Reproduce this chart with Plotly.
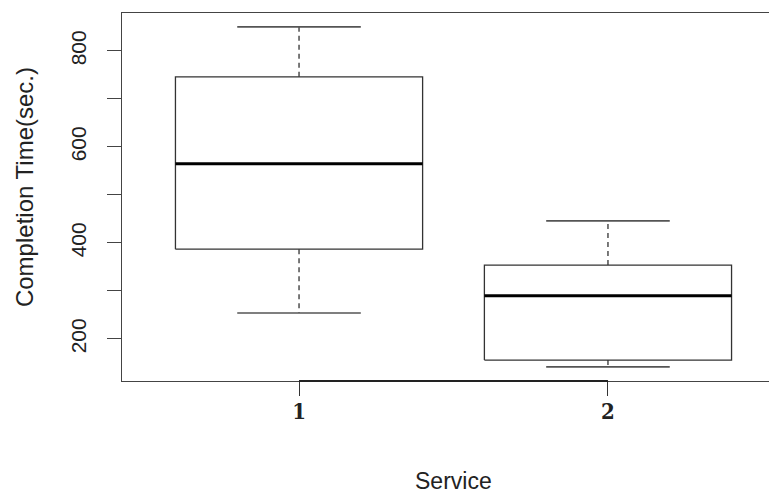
import plotly.graph_objects as go

services = [1, 2]
service_labels = ["1", "2"]
upper_whisker = [850, 446]
q3 = [746, 354]
median = [565, 290]
q1 = [387, 156]
lower_whisker = [254, 142]

box_half = 0.4
cap_half = 0.2
line_col = "#333333"

fig = go.Figure()
for i, c in enumerate(services):
    fig.add_trace(go.Scatter(
        x=[c - box_half, c + box_half, c + box_half, c - box_half, c - box_half],
        y=[q1[i], q1[i], q3[i], q3[i], q1[i]],
        mode="lines", line=dict(color=line_col, width=1.3),
        showlegend=False, hoverinfo="skip"))
    fig.add_trace(go.Scatter(
        x=[c - box_half, c + box_half], y=[median[i], median[i]],
        mode="lines", line=dict(color="black", width=3),
        showlegend=False, hoverinfo="skip"))
    for a, b in [(q3[i], upper_whisker[i]), (q1[i], lower_whisker[i])]:
        fig.add_trace(go.Scatter(
            x=[c, c], y=[a, b], mode="lines",
            line=dict(color=line_col, width=1.3, dash="5px,4px"),
            showlegend=False, hoverinfo="skip"))
    for v in [upper_whisker[i], lower_whisker[i]]:
        fig.add_trace(go.Scatter(
            x=[c - cap_half, c + cap_half], y=[v, v], mode="lines",
            line=dict(color="#555555", width=1.6),
            showlegend=False, hoverinfo="skip"))

fig.add_shape(type="line", xref="x", yref="paper",
              x0=services[0], x1=services[-1], y0=0, y1=0,
              line=dict(color="#222222", width=1.8))

fig.add_annotation(text="Completion Time(sec.)", textangle=-90,
                   xref="paper", yref="paper", x=-0.1478, y=0.527,
                   xanchor="center", yanchor="middle", showarrow=False,
                   font=dict(family="Liberation Sans, Arial, sans-serif", size=24, color="#222222"))
fig.add_annotation(text="Service",
                   xref="paper", yref="paper", x=0.5, y=-0.2717,
                   xanchor="center", yanchor="middle", showarrow=False,
                   font=dict(family="Liberation Sans, Arial, sans-serif", size=23, color="#222222"))

fig.update_layout(
    width=777, height=494,
    margin=dict(l=114, r=0, t=5, b=121),
    paper_bgcolor="white", plot_bgcolor="white",
    font=dict(family="Liberation Sans, Arial, sans-serif", color="#222222"),
    xaxis=dict(
        range=[0.427, 2.573], showgrid=False, zeroline=False,
        showline=True, mirror=True, linecolor="#444444", linewidth=1.3,
        tickmode="array", tickvals=services, ticktext=service_labels,
        ticks="outside", ticklen=14, tickcolor="#333333", tickwidth=1.3,
        ticklabelstandoff=-4,
        tickfont=dict(family="DejaVu Serif Condensed, Liberation Serif, serif",
                      size=22, weight="bold", color="#222222"),
    ),
    yaxis=dict(
        range=[112.5, 879], showgrid=False, zeroline=False,
        showline=True, mirror=False, linecolor="#444444", linewidth=1.3,
        tickmode="linear", tick0=200, dtick=200,
        ticks="outside", ticklen=14, tickcolor="#444444", tickwidth=1.2,
        minor=dict(tickmode="linear", tick0=100, dtick=100, ticks="outside",
                   ticklen=14, tickcolor="#444444", tickwidth=1.2, showgrid=False),
        tickangle=-90, ticklabelstandoff=12,
        tickfont=dict(size=21),
    ),
)

fig.write_html("out.html")
